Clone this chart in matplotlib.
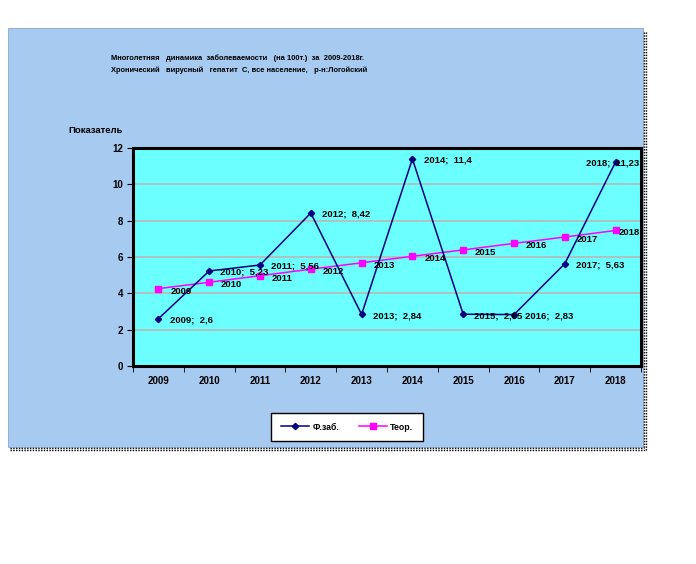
import matplotlib
matplotlib.use("Agg")
import matplotlib.pyplot as plt
from matplotlib.patches import Rectangle
from matplotlib.lines import Line2D

FONT = ["Liberation Sans Narrow", "Liberation Sans", "DejaVu Sans"]
plt.rcParams["font.family"] = FONT
plt.rcParams["font.weight"] = "bold"

years = ["2009", "2010", "2011", "2012", "2013", "2014", "2015", "2016", "2017", "2018"]
actual = [2.6, 5.23, 5.56, 8.42, 2.84, 11.4, 2.85, 2.83, 5.63, 11.23]
actual_lbl = ["2,6", "5,23", "5,56", "8,42", "2,84", "11,4", "2,85", "2,83", "5,63", "11,23"]
theor = [4.26, 4.61, 4.97, 5.33, 5.68, 6.04, 6.39, 6.75, 7.10, 7.46]

W, H = 696, 564
fig = plt.figure(figsize=(W / 100, H / 100), dpi=100)
fig.patch.set_facecolor("white")


def fx(px):
    return px / W


def fy(py):
    return 1 - py / H


# outer chart panel + dotted shadow
panel = Rectangle((fx(8), fy(447)), fx(643) - fx(8), fy(28) - fy(447),
                  transform=fig.transFigure, facecolor="#A6CAF0",
                  edgecolor="#8AA8C8", lw=0.6, zorder=-5)
fig.add_artist(panel)
for off in (1.0, 2.5):
    fig.add_artist(Line2D([fx(10), fx(643 + off)], [fy(447 + off), fy(447 + off)],
                          transform=fig.transFigure, color="black", lw=1, ls=(0, (1, 1)), zorder=-4))
    fig.add_artist(Line2D([fx(643 + off), fx(643 + off)], [fy(32), fy(447 + off)],
                          transform=fig.transFigure, color="black", lw=1, ls=(0, (1, 1)), zorder=-4))

fig.text(fx(111), fy(58), "Многолетняя   динамика  заболеваемости   (на 100т.)  за  2009-2018г.",
         fontsize=5.4, va="center", ha="left")
fig.text(fx(111), fy(70), "Хронический   вирусный   гепатит  С, все население,   р-н:Логойский",
         fontsize=5.4, va="center", ha="left")
fig.text(fx(68), fy(130), "Показатель", fontsize=6.8, va="center", ha="left")

ax = fig.add_axes([fx(133), fy(366), fx(641) - fx(133), fy(148) - fy(366)])
ax.set_facecolor("#6CFFFF")
x = list(range(len(years)))

ax.plot(x, actual, color="#000080", lw=1.1, marker="D", ms=3.2, label="Ф.заб.", zorder=4)
ax.plot(x, theor, color="#FF00FF", lw=1.1, marker="s", ms=4, label="Теор.", zorder=3)

last = len(years) - 1
for i, (v, s) in enumerate(zip(actual, actual_lbl)):
    dx = 8 if i < last else -21
    ax.annotate(f"{years[i]};  {s}", (i, v), xytext=(dx, -1), textcoords="offset points",
                fontsize=6.8, va="center", ha="left", zorder=5)
for i, v in enumerate(theor):
    dx = 8.5 if i < last else 2
    ax.annotate(years[i], (i, v), xytext=(dx, -1.8), textcoords="offset points",
                fontsize=6.8, va="center", ha="left", zorder=5)

ax.set_xlim(-0.5, len(years) - 0.5)
ax.set_ylim(0, 12)
ax.set_yticks(range(0, 13, 2))
ax.set_xticks(x)
ax.set_xticklabels(years)
ax.set_xticks([i - 0.5 for i in range(len(years) + 1)], minor=True)
ax.tick_params(axis="x", which="major", length=0, labelsize=7, pad=7)
ax.tick_params(axis="x", which="minor", length=4, direction="out")
ax.tick_params(axis="y", length=4, direction="out", labelsize=7, pad=3)
ax.grid(axis="y", color="#B8B8B8", lw=1.2)
ax.set_axisbelow(True)
for sp in ax.spines.values():
    sp.set_linewidth(2.2)
    sp.set_color("black")

fig.legend(loc="center", bbox_to_anchor=(fx(347), fy(427)), ncol=2, fontsize=6.3,
           frameon=True, fancybox=False, framealpha=1, edgecolor="black",
           handlelength=3.2, handletextpad=0.4, columnspacing=2.2, borderpad=1.1)

fig.savefig("out.png", dpi=100)
